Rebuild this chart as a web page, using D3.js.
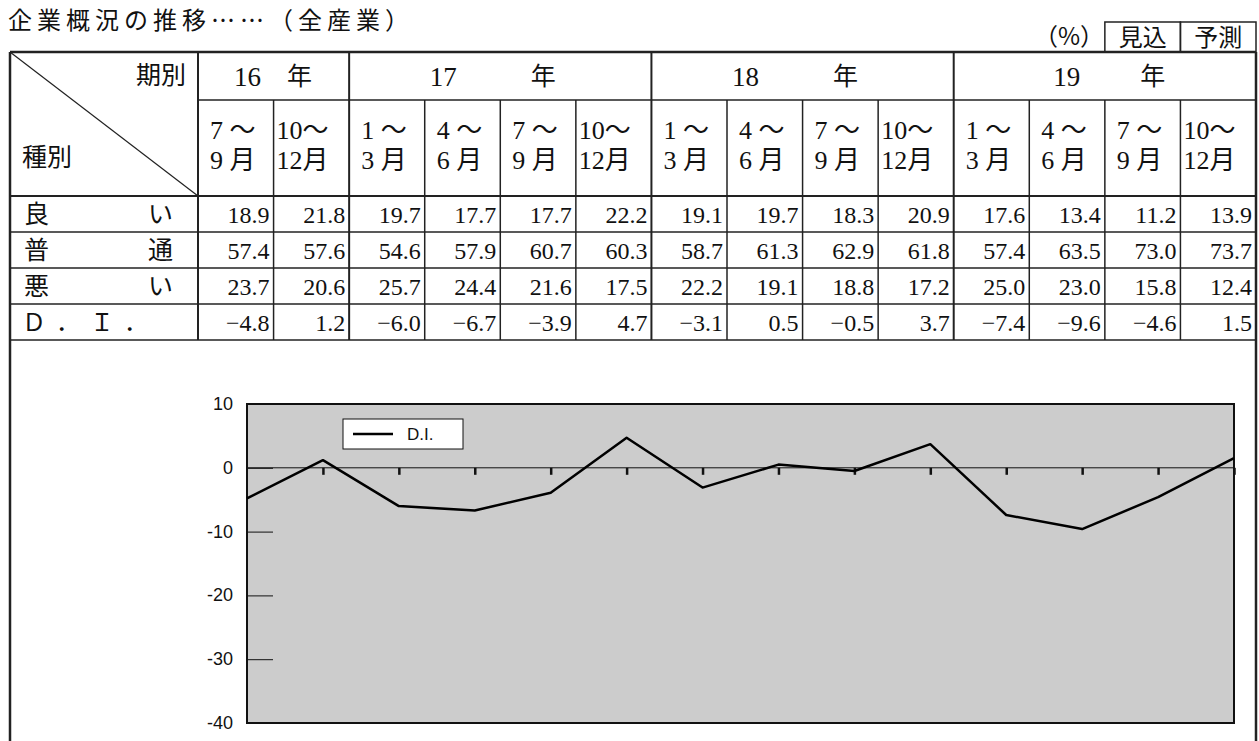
<!DOCTYPE html>
<html>
<head>
<meta charset="utf-8">
<script src="https://cdn.jsdelivr.net/npm/d3@7/dist/d3.min.js"></script>
<style>
  body { margin: 0; background: #fff; }
  svg text { font-family: "Liberation Serif", "Noto Sans CJK JP", serif; fill: #111; }
  svg text.cjk { font-family: "Noto Sans CJK JP", sans-serif; }
  svg text.axis-label, svg text.legend-label { font-family: "Liberation Sans", Arial, sans-serif; }
</style>
</head>
<body>
<div id="chart"></div>
<script>
// Table + D.I. line chart (全産業)

const years = ['16', '17', '18', '19'];
const yearSpans = [2, 4, 4, 4];
const periodTop = ['7 ～', '10～', '1 ～', '4 ～', '7 ～', '10～', '1 ～', '4 ～', '7 ～', '10～', '1 ～', '4 ～', '7 ～', '10～'];
const periodBottom = ['9 月', '12月', '3 月', '6 月', '9 月', '12月', '3 月', '6 月', '9 月', '12月', '3 月', '6 月', '9 月', '12月'];
const good = [18.9, 21.8, 19.7, 17.7, 17.7, 22.2, 19.1, 19.7, 18.3, 20.9, 17.6, 13.4, 11.2, 13.9];
const normal = [57.4, 57.6, 54.6, 57.9, 60.7, 60.3, 58.7, 61.3, 62.9, 61.8, 57.4, 63.5, 73.0, 73.7];
const bad = [23.7, 20.6, 25.7, 24.4, 21.6, 17.5, 22.2, 19.1, 18.8, 17.2, 25.0, 23.0, 15.8, 12.4];
const di = [-4.8, 1.2, -6.0, -6.7, -3.9, 4.7, -3.1, 0.5, -0.5, 3.7, -7.4, -9.6, -4.6, 1.5];
const rowLabels = [['良', 'い'], ['普', '通'], ['悪', 'い']];
const yTicks = [10, 0, -10, -20, -30, -40];

const W = 1259, H = 741;
const svg = d3.select('#chart').append('svg')
    .attr('width', W)
    .attr('height', H);

svg.append('rect').attr('width', W).attr('height', H).attr('fill', '#fff');

// Title
svg.append('text')
    .attr('class', 'cjk')
    .attr('x', 8)
    .attr('y', 29)
    .attr('font-size', 24)
    .attr('letter-spacing', 5)
    .text('企業概況の推移……（全産業）');

// Table geometry
const left = 10, right = 1256, firstCol = 198;
const tableTop = 52, row1 = 100, headBottom = 196, rowH = 36;
const dataRows = [good, normal, bad, di];
const tableBottom = headBottom + rowH * dataRows.length;

const col = d3.scaleBand()
    .domain(d3.range(periodTop.length))
    .range([firstCol, right]);

const line = (x1, y1, x2, y2, w) => svg.append('line')
    .attr('x1', x1).attr('y1', y1).attr('x2', x2).attr('y2', y2)
    .attr('stroke', '#222').attr('stroke-width', w);

// (%) + 見込 / 予測 boxes
svg.append('text')
    .attr('class', 'cjk')
    .attr('x', 1104).attr('y', 45)
    .attr('text-anchor', 'end')
    .attr('font-size', 24)
    .text('（%）');
[['見込', 12], ['予測', 13]].forEach(([t, i]) => {
    svg.append('rect')
        .attr('x', col(i)).attr('y', 22)
        .attr('width', col.bandwidth()).attr('height', tableTop - 22)
        .attr('fill', 'none').attr('stroke', '#222').attr('stroke-width', 1.5);
    svg.append('text')
        .attr('x', col(i) + col.bandwidth() / 2).attr('y', 46)
        .attr('text-anchor', 'middle')
        .attr('font-size', 24)
        .text(t);
});

// Horizontal rules
line(firstCol, row1, right, row1, 1.5);
for (let r = 0; r < dataRows.length; r++) {
    line(left, headBottom + r * rowH, right, headBottom + r * rowH, r === 0 ? 2 : 1.5);
}
line(left, tableBottom, right, tableBottom, 1.5);

// Vertical rules
line(firstCol, tableTop, firstCol, tableBottom, 2);
let acc = 0;
const groupStarts = [];
yearSpans.forEach(s => { groupStarts.push(acc); acc += s; });
d3.range(1, periodTop.length).forEach(i => {
    const isGroup = groupStarts.includes(i);
    line(col(i), isGroup ? tableTop : row1, col(i), tableBottom, isGroup ? 2 : 1.5);
});

// Outer frame (continues down around the chart)
line(left, tableTop, right, tableTop, 2.5);
line(left, tableTop, left, H, 2.5);
line(right, tableTop, right, H, 2.5);

// Diagonal corner cell
line(left, tableTop, firstCol, headBottom, 1.2);
svg.append('text').attr('x', 186).attr('y', 84).attr('text-anchor', 'end').attr('font-size', 25).text('期別');
svg.append('text').attr('x', 22).attr('y', 166).attr('font-size', 25).text('種別');

// Year headers
years.forEach((yr, g) => {
    const x0 = col(groupStarts[g]);
    const x1 = col(groupStarts[g] + yearSpans[g] - 1) + col.bandwidth();
    const cx = (x0 + x1) / 2;
    const off = yearSpans[g] === 2 ? [-26, 26] : (g === 3 ? [-38, 48] : [-57, 43]);
    svg.append('text').attr('x', cx + off[0]).attr('y', 86).attr('text-anchor', 'middle')
        .attr('font-size', 27).text(yr);
    svg.append('text').attr('x', cx + off[1]).attr('y', 85).attr('text-anchor', 'middle')
        .attr('font-size', 25).text('年');
});

// Period headers
periodTop.forEach((t, i) => {
    const pad = t.indexOf(' ') > 0 ? 12 : 3;
    svg.append('text').attr('x', col(i) + pad).attr('y', 139).attr('font-size', 26).text(t);
    const b = periodBottom[i];
    svg.append('text').attr('x', col(i) + (b.indexOf(' ') > 0 ? 12 : 3)).attr('y', 169).attr('font-size', 26).text(b);
});

// Row labels
rowLabels.forEach((lab, r) => {
    const y = headBottom + r * rowH + 27;
    svg.append('text').attr('x', 24).attr('y', y).attr('font-size', 25).text(lab[0]);
    svg.append('text').attr('x', 148).attr('y', y).attr('font-size', 25).text(lab[1]);
});
svg.append('text')
    .attr('x', 22).attr('y', headBottom + 3 * rowH + 27)
    .attr('font-size', 24)
    .attr('letter-spacing', 10)
    .text('Ｄ．Ｉ．');

// Values
const fmt = d3.format('.1f');
dataRows.forEach((vals, r) => {
    svg.selectAll(null)
        .data(vals)
        .enter()
        .append('text')
        .attr('x', (d, i) => col(i) + col.bandwidth() - 4)
        .attr('y', headBottom + r * rowH + 27)
        .attr('text-anchor', 'end')
        .attr('font-size', 24)
        .text(d => fmt(d));
});

// Chart
const plot = { left: 247, right: 1234, top: 404, bottom: 723 };

const x = d3.scalePoint()
    .domain(d3.range(di.length))
    .range([plot.left, plot.right]);

const y = d3.scaleLinear()
    .domain([-40, 10])
    .range([plot.bottom, plot.top]);

svg.append('rect')
    .attr('x', plot.left).attr('y', plot.top)
    .attr('width', plot.right - plot.left).attr('height', plot.bottom - plot.top)
    .attr('fill', '#cccccc');

// Y axis (ticks drawn inward)
const yAxis = svg.append('g')
    .attr('transform', `translate(${plot.left},0)`)
    .call(d3.axisRight(y).tickValues(yTicks).tickSize(26).tickFormat(''));
yAxis.select('.domain').remove();
yAxis.selectAll('.tick line').attr('stroke', '#111').attr('stroke-width', 1);

svg.selectAll('.axis-label')
    .data(yTicks)
    .enter()
    .append('text')
    .attr('class', 'axis-label')
    .attr('x', plot.left - 14)
    .attr('y', d => y(d) + 6)
    .attr('text-anchor', 'end')
    .attr('font-size', 18)
    .text(d => d);

// Zero line + category ticks
line(plot.left, y(0), plot.right, y(0), 1).attr('stroke', '#111');
const xAxis = svg.append('g')
    .attr('transform', `translate(0,${y(0)})`)
    .call(d3.axisBottom(x).tickSize(7).tickFormat('').tickValues(d3.range(1, di.length)));
xAxis.select('.domain').remove();
xAxis.selectAll('.tick line').attr('stroke', '#111').attr('stroke-width', 2.5);

// Plot frame
svg.append('rect')
    .attr('x', plot.left).attr('y', plot.top)
    .attr('width', plot.right - plot.left).attr('height', plot.bottom - plot.top)
    .attr('fill', 'none').attr('stroke', '#111').attr('stroke-width', 2);

// D.I. line
svg.append('path')
    .datum(di)
    .attr('fill', 'none')
    .attr('stroke', '#000')
    .attr('stroke-width', 2.5)
    .attr('stroke-linejoin', 'round')
    .attr('d', d3.line().x((d, i) => x(i)).y(d => y(d)));

// Legend
const legend = svg.append('g').attr('transform', 'translate(343,419)');
legend.append('rect')
    .attr('width', 120).attr('height', 30)
    .attr('fill', '#fff').attr('stroke', '#111').attr('stroke-width', 1);
legend.append('line')
    .attr('x1', 10).attr('x2', 50).attr('y1', 15).attr('y2', 15)
    .attr('stroke', '#000').attr('stroke-width', 2.5);
legend.append('text')
    .attr('class', 'legend-label')
    .attr('x', 64).attr('y', 21)
    .attr('font-size', 17)
    .text('D.I.');
</script>
</body>
</html>
